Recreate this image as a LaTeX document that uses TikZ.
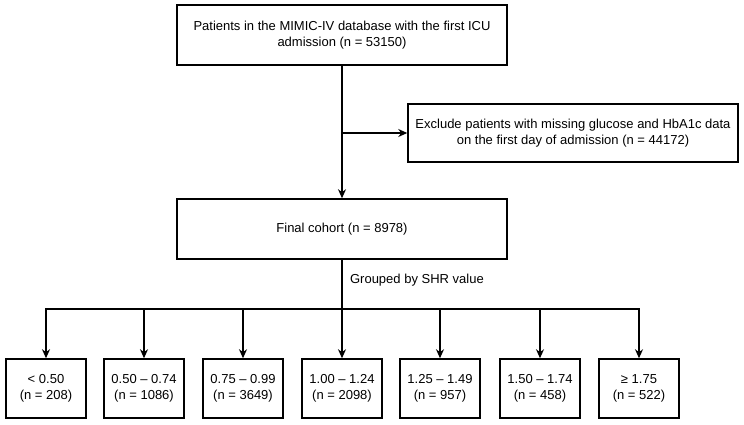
\documentclass[tikz,border=0pt]{standalone}
\usepackage{fontspec}
\setmainfont{Liberation Sans}
\usetikzlibrary{arrows.meta,positioning}

\begin{document}
\begin{tikzpicture}[x=1pt, y=-1pt, font=\fontsize{13}{15.5}\selectfont,
    box/.style={draw, line width=1.5pt, align=center, inner sep=0pt},
    bigbox/.style={box, minimum width=330pt, minimum height=60pt},
    grpbox/.style={box, minimum width=80pt, minimum height=59pt},
    arr/.style={line width=1.5pt, -{Stealth[length=9pt, width=8pt]}},
    ln/.style={line width=1.5pt}]
    \useasboundingbox (0,0) rectangle (744,425);
    \node[bigbox] (A) at (342,35) {Patients in the MIMIC-IV database with the first ICU\\admission (n = 53150)};
    \node[bigbox, minimum height=58pt] (E) at (573,133) {Exclude patients with missing glucose and HbA1c data\\on the first day of admission (n = 44172)};
    \node[bigbox] (F) at (342,229) {Final cohort (n = 8978)};
    \coordinate (J) at (342,133);
    \coordinate (S) at (342,309);
    \draw[arr] (A) -- (F);
    \draw[arr] (J) -- (E);
    \draw[ln] (F) -- (S) node[pos=0.42, right=4pt] {Grouped by SHR value};
    \foreach \n/\x/\lab/\cnt in {g1/46/{< 0.50}/208, g2/144/{0.50 -- 0.74}/1086,
        g3/243/{0.75 -- 0.99}/3649, g4/342/{1.00 -- 1.24}/2098, g5/440/{1.25 -- 1.49}/957,
        g6/540/{1.50 -- 1.74}/458, g7/639/{≥ 1.75}/522} {
      \node[grpbox] (\n) at (\x,388.5) {\lab\\(n = \cnt)};
      \coordinate (t\n) at (\x,309);
      \draw[arr] (t\n) -- (\n);
    }
    \draw[ln, line cap=rect] (tg1) -- (tg7);
\end{tikzpicture}
\end{document}
